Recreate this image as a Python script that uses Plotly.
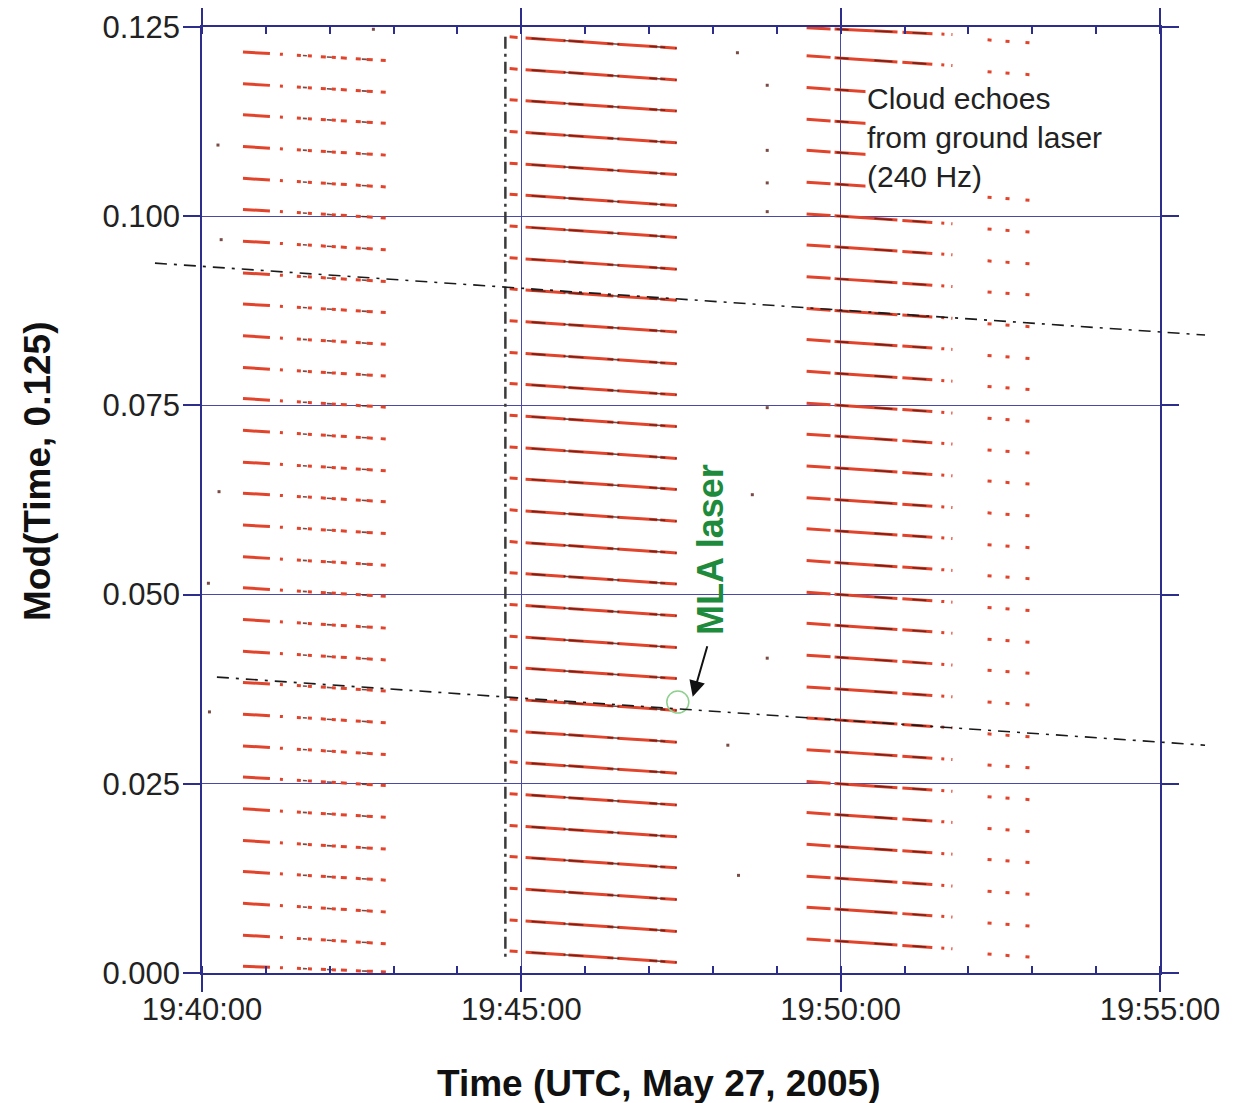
import pandas as pd
import plotly.graph_objects as go

DAY = "2005-05-27 "

# ---------------- data ----------------
# Cloud-echo groups (240 Hz ground laser): start / end times and y at start / end of each of the 30 rows
g1_time = ["19:40:38.5", "19:43:01"]
g1_y0 = [0.1217, 0.1175, 0.1134, 0.1092, 0.1050, 0.1009, 0.0967, 0.0925, 0.0884, 0.0842,
         0.0800, 0.0759, 0.0717, 0.0675, 0.0634, 0.0592, 0.0550, 0.0509, 0.0467, 0.0425,
         0.0384, 0.0342, 0.0300, 0.0259, 0.0217, 0.0175, 0.0134, 0.0092, 0.0050, 0.0009]
g1_y1 = [0.1205, 0.1163, 0.1122, 0.1080, 0.1038, 0.0997, 0.0955, 0.0913, 0.0872, 0.0830,
         0.0788, 0.0747, 0.0705, 0.0663, 0.0622, 0.0580, 0.0538, 0.0497, 0.0455, 0.0413,
         0.0372, 0.0330, 0.0288, 0.0247, 0.0205, 0.0163, 0.0122, 0.0080, 0.0038, 0.0001]

g2_time = ["19:44:49", "19:47:26"]
g2_y0 = [0.1237, 0.1195, 0.1154, 0.1112, 0.1070, 0.1029, 0.0987, 0.0945, 0.0904, 0.0862,
         0.0820, 0.0779, 0.0737, 0.0695, 0.0654, 0.0612, 0.0570, 0.0529, 0.0487, 0.0445,
         0.0404, 0.0362, 0.0320, 0.0279, 0.0237, 0.0195, 0.0154, 0.0112, 0.0070, 0.0029]
g2_y1 = [0.1222, 0.1180, 0.1139, 0.1097, 0.1055, 0.1014, 0.0972, 0.0930, 0.0889, 0.0847,
         0.0805, 0.0764, 0.0722, 0.0680, 0.0639, 0.0597, 0.0555, 0.0514, 0.0472, 0.0430,
         0.0389, 0.0347, 0.0305, 0.0264, 0.0222, 0.0180, 0.0139, 0.0097, 0.0055, 0.0014]

g3_time = ["19:49:28", "19:51:45"]
g3_y0 = [0.1249, 0.1212, 0.1170, 0.1128, 0.1087, 0.1045, 0.1003, 0.0962, 0.0920, 0.0878,
         0.0837, 0.0795, 0.0753, 0.0712, 0.0670, 0.0628, 0.0587, 0.0545, 0.0503, 0.0462,
         0.0420, 0.0378, 0.0337, 0.0295, 0.0253, 0.0212, 0.0170, 0.0128, 0.0087, 0.0045]
g3_y1 = [0.1240, 0.1199, 0.1157, 0.1115, 0.1074, 0.1032, 0.0990, 0.0949, 0.0907, 0.0865,
         0.0824, 0.0782, 0.0740, 0.0699, 0.0657, 0.0615, 0.0574, 0.0532, 0.0490, 0.0449,
         0.0407, 0.0365, 0.0324, 0.0282, 0.0240, 0.0199, 0.0157, 0.0115, 0.0074, 0.0032]

g4_time = ["19:52:18", "19:52:58"]
g4_y0 = [0.1233, 0.1191, 0.1150, 0.1108, 0.1066, 0.1025, 0.0983, 0.0941, 0.0900, 0.0858,
         0.0816, 0.0775, 0.0733, 0.0691, 0.0650, 0.0608, 0.0566, 0.0525, 0.0483, 0.0441,
         0.0400, 0.0358, 0.0316, 0.0275, 0.0233, 0.0191, 0.0150, 0.0108, 0.0066, 0.0025]
g4_y1 = [0.1229, 0.1187, 0.1146, 0.1104, 0.1062, 0.1021, 0.0979, 0.0937, 0.0896, 0.0854,
         0.0812, 0.0771, 0.0729, 0.0687, 0.0646, 0.0604, 0.0562, 0.0521, 0.0479, 0.0437,
         0.0396, 0.0354, 0.0312, 0.0271, 0.0229, 0.0187, 0.0146, 0.0104, 0.0062, 0.0021]

# MLA laser returns (two dash-dot tracks)
mla_a_time = ["19:39:15.8", "19:55:42.3"]
mla_a_y = [0.0938, 0.0843]
mla_b_time = ["19:40:14", "19:55:42.3"]
mla_b_y = [0.0391, 0.0301]

# vertical dash-dot marker
vline_time = ["19:44:45", "19:44:45"]
vline_y = [0.1237, 0.0015]

# stray returns
stray_time = ["19:40:15", "19:40:18", "19:40:16", "19:40:06", "19:40:07", "19:48:23",
              "19:48:51", "19:48:51", "19:48:51", "19:48:51", "19:48:51", "19:48:51",
              "19:48:37", "19:48:14", "19:48:24", "19:42:41"]
stray_y = [0.1094, 0.0969, 0.0636, 0.0515, 0.0345, 0.1216,
           0.1173, 0.1087, 0.1044, 0.1006, 0.0747, 0.0416,
           0.0632, 0.0301, 0.0129, 0.1247]

# MLA point highlighted
mla_pt_time = ["19:47:27"]
mla_pt_y = [0.0358]

x_ticks = ["19:40:00", "19:45:00", "19:50:00", "19:55:00"]
y_ticks = [0.000, 0.025, 0.050, 0.075, 0.100, 0.125]

# ---------------- layout geometry (pixels) ----------------
W, H = 1240, 1103
X0, X1 = 202, 1160   # plot left / right
YT, YB = 27, 973     # plot top / bottom

t0 = pd.Timestamp(DAY + x_ticks[0])
t1 = pd.Timestamp(DAY + x_ticks[-1])
span_s = (t1 - t0).total_seconds()
px_s = (X1 - X0) / span_s
px_u = (YB - YT) / (y_ticks[-1] - y_ticks[0])


def ts(s):
    return pd.Timestamp(DAY + s).strftime("%Y-%m-%d %H:%M:%S.%f")


def rows(times, y0, y1):
    xs, ys = [], []
    for a, b in zip(y0, y1):
        xs += [ts(times[0]), ts(times[1]), None]
        ys += [a, b, None]
    return xs, ys


fig = go.Figure()

RED = "#e2432b"
groups = [
    (g1_time, g1_y0, g1_y1, "27px,10px,3px,14px,4px,7px,4px,9px,5px,6px,4px,5px,6px,9px,5px,6px,6px,8px,5px,11px,4px,14px,4px"),
    (g2_time, g2_y0, g2_y1, "8px,8px,40px,3px,45px,4px,40px,3px,30px"),
    (g3_time, g3_y0, g3_y1, "24px,4px,63px,5px,30px,9px,3px,7px,3px,30px"),
    (g4_time, g4_y0, g4_y1, "4px,14px,4px,16px,4px,20px"),
]
for times, a, b, dash in groups:
    xs, ys = rows(times, a, b)
    fig.add_trace(go.Scatter(x=xs, y=ys, mode="lines", xaxis="x", yaxis="y",
                             line=dict(color=RED, width=3, dash=dash),
                             hoverinfo="skip", showlegend=False))

# darker texture on the dense groups
for times, a, b, dash in [
    (g1_time, g1_y0, g1_y1, "0px,60px,4px,20px,5px,30px,5px,40px"),
    (g2_time, g2_y0, g2_y1, "0px,22px,14px,18px,20px,24px,12px,30px,16px,10px,30px"),
    (g3_time, g3_y0, g3_y1, "0px,30px,12px,26px,18px,20px,14px,40px"),
]:
    xs, ys = rows(times, a, b)
    fig.add_trace(go.Scatter(x=xs, y=ys, mode="lines", xaxis="x", yaxis="y",
                             line=dict(color="#5a1c14", width=1.6, dash=dash),
                             opacity=0.8, hoverinfo="skip", showlegend=False))

# vertical dash-dot line
fig.add_trace(go.Scatter(x=[ts(t) for t in vline_time], y=vline_y, mode="lines",
                         xaxis="x", yaxis="y",
                         line=dict(color="#3a3a3a", width=2.5, dash="12px,5px,3px,5px"),
                         hoverinfo="skip", showlegend=False))

# stray points
fig.add_trace(go.Scatter(x=[ts(t) for t in stray_time], y=stray_y, mode="markers",
                         xaxis="x", yaxis="y",
                         marker=dict(color="#7a4a44", size=3, symbol="square"),
                         hoverinfo="skip", showlegend=False))

# MLA highlighted point
fig.add_trace(go.Scatter(x=[ts(t) for t in mla_pt_time], y=mla_pt_y, mode="markers",
                         xaxis="x", yaxis="y",
                         marker=dict(color="#8fd08f", size=22, symbol="circle-open",
                                     line=dict(width=1.5)),
                         hoverinfo="skip", showlegend=False))

# MLA tracks on a full-page overlay axis with the same scale (so they may run past the frame)
for tt, yy in [(mla_a_time, mla_a_y), (mla_b_time, mla_b_y)]:
    fig.add_trace(go.Scatter(x=[ts(t) for t in tt], y=yy, mode="lines",
                             xaxis="x2", yaxis="y2",
                             line=dict(color="#1a1a1a", width=1.6, dash="12px,7px,3px,7px"),
                             hoverinfo="skip", showlegend=False))

x2_lo = (t0 - pd.Timedelta(seconds=X0 / px_s)).strftime("%Y-%m-%d %H:%M:%S.%f")
x2_hi = (t0 + pd.Timedelta(seconds=(W - X0) / px_s)).strftime("%Y-%m-%d %H:%M:%S.%f")
y2_lo = y_ticks[0] - (H - YB) / px_u
y2_hi = y_ticks[-1] + YT / px_u

AX = "#2d2d8c"
GRID = "#4a4aa6"
FONT = "Liberation Sans, Arial, sans-serif"

fig.update_layout(
    width=W, height=H,
    margin=dict(l=0, r=0, t=0, b=0),
    paper_bgcolor="white", plot_bgcolor="rgba(0,0,0,0)",
    showlegend=False,
    font=dict(family=FONT, color="#222"),
    xaxis=dict(
        domain=[X0 / W, X1 / W], anchor="y", type="date",
        range=[ts(x_ticks[0]), ts(x_ticks[-1])],
        tickmode="array", tickvals=[ts(t) for t in x_ticks], ticktext=x_ticks,
        ticks="outside", ticklen=17, tickwidth=1.5, tickcolor=AX,
        ticklabelstandoff=-9,
        showline=True, linecolor=AX, linewidth=1.5, mirror="ticks",
        showgrid=True, gridcolor=GRID, gridwidth=1,
        minor=dict(dtick=60000, tick0=ts(x_ticks[0]), ticks="inside", ticklen=7,
                   tickwidth=1.5, tickcolor=AX, showgrid=False),
        tickfont=dict(size=31, family=FONT, color="#222"),
        zeroline=False, automargin=False,
    ),
    yaxis=dict(
        domain=[1 - YB / H, 1 - YT / H], anchor="x",
        range=[y_ticks[0], y_ticks[-1]],
        tickmode="array", tickvals=y_ticks, ticktext=[f"{v:.3f}" for v in y_ticks],
        ticks="outside", ticklen=17, tickwidth=1.5, tickcolor=AX,
        ticklabelstandoff=-3,
        showline=True, linecolor=AX, linewidth=1.5, mirror="ticks",
        showgrid=True, gridcolor=GRID, gridwidth=1,
        tickfont=dict(size=31, family=FONT, color="#222"),
        zeroline=False, automargin=False,
    ),
    xaxis2=dict(domain=[0, 1], anchor="y2", type="date", range=[x2_lo, x2_hi],
                visible=False, showgrid=False, zeroline=False),
    yaxis2=dict(domain=[0, 1], anchor="x2", range=[y2_lo, y2_hi],
                visible=False, showgrid=False, zeroline=False),
)

annotations = [
    dict(text="<b>Time (UTC, May 27, 2005)</b>", xref="paper", yref="paper",
         x=659 / W, y=1 - 1083 / H, showarrow=False,
         font=dict(size=37, family=FONT, color="#111"), xanchor="center", yanchor="middle"),
    dict(text="<b>Mod(Time, 0.125)</b>", xref="paper", yref="paper",
         x=37 / W, y=1 - 471 / H, showarrow=False, textangle=-90,
         font=dict(size=37, family=FONT, color="#111"), xanchor="center", yanchor="middle"),
    dict(text="Cloud echoes<br>from ground laser<br>(240 Hz)", xref="x", yref="y",
         x=ts("19:50:23"), y=0.1180, showarrow=False, align="left",
         bgcolor="white", borderpad=1,
         font=dict(size=30, family=FONT, color="#222"), xanchor="left", yanchor="top"),
    dict(text="<b>MLA laser</b>", xref="x", yref="y",
         x=ts("19:47:57"), y=0.0560, showarrow=False, textangle=-90,
         font=dict(size=36, family=FONT, color="#1d8a3c"), xanchor="center", yanchor="middle"),
    dict(text="", xref="x", yref="y", x=ts("19:47:41"), y=0.0365,
         showarrow=True, ax=15, ay=-52, arrowhead=2, arrowsize=1.6, arrowwidth=2,
         arrowcolor="#111"),
]
fig.update_layout(annotations=annotations)

fig.write_html("out.html")
